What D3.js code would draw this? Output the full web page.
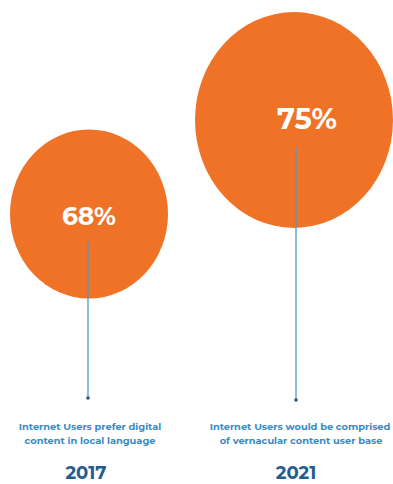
<!DOCTYPE html>
<html>
<head>
<meta charset="utf-8">
<script src="https://cdn.jsdelivr.net/npm/d3@7"></script>
<style>
  html, body { margin: 0; padding: 0; background: #ffffff; }
  svg { display: block; }
</style>
</head>
<body>
<svg id="chart" width="393" height="484"></svg>
<script>
// Share of internet users, by year
const years = ["2017", "2021"];
const shares = [68, 75];
const captionLine1 = ["Internet Users prefer digital", "Internet Users would be comprised"];
const captionLine2 = ["content in local language", "of vernacular content user base"];

const svg = d3.select("#chart");

const orange = "#f07227";
const stemBlue = "#4f98cc";
const captionBlue = "#3a8cc4";
const yearBlue = "#245d8c";
const font = "Montserrat, 'Open Sans', Lato, sans-serif";

const rows = years.map((y, i) => ({ year: y, value: shares[i], l1: captionLine1[i], l2: captionLine2[i] }));

// Column positions for each year
const x = d3.scalePoint().domain(years).range([89, 294]);
// Bubble size and height grow with the share
const r = d3.scaleLinear().domain([68, 75]).range([79, 99]);
const cy = d3.scaleLinear().domain([68, 75]).range([214, 120]);
const squash = d3.scaleLinear().domain([68, 75]).range([1.07, 1.09]); // bubbles are slightly taller than wide
const stemShift = d3.scaleLinear().domain([68, 75]).range([-1, 2]);
const labelShift = d3.scaleLinear().domain([68, 75]).range([0, 13]);
const stemEndY = d3.scaleLinear().domain([68, 75]).range([398, 400]);

const g = svg.selectAll("g.item").data(rows).join("g").attr("class", "item");

g.append("ellipse")
  .attr("cx", d => x(d.year))
  .attr("cy", d => cy(d.value))
  .attr("rx", d => r(d.value))
  .attr("ry", d => r(d.value) * squash(d.value))
  .attr("fill", orange);

// Stem from the bubble label down to the caption
g.append("line")
  .attr("x1", d => x(d.year) + stemShift(d.value))
  .attr("x2", d => x(d.year) + stemShift(d.value))
  .attr("y1", d => cy(d.value) + 27)
  .attr("y2", d => stemEndY(d.value))
  .attr("stroke", stemBlue)
  .attr("stroke-width", 1.3);

g.append("circle")
  .attr("cx", d => x(d.year) + stemShift(d.value))
  .attr("cy", d => stemEndY(d.value))
  .attr("r", 1.8)
  .attr("fill", "#2d5878");

// Value label inside the bubble
g.append("text")
  .attr("x", d => x(d.year) + labelShift(d.value))
  .attr("y", d => cy(d.value) + (d.value === 75 ? 9 : 11))
  .attr("text-anchor", "middle")
  .attr("fill", "#ffffff")
  .attr("font-family", font)
  .attr("font-weight", 700)
  .attr("font-size", d => d.value === 75 ? 29 : 25)
  .text(d => d.value + "%");

// Caption lines
g.append("text")
  .attr("x", d => x(d.year) + (d.value === 75 ? 6 : 1))
  .attr("y", 430)
  .attr("text-anchor", "middle")
  .attr("fill", captionBlue)
  .attr("font-family", font)
  .attr("font-weight", 700)
  .attr("font-size", 9.8)
  .text(d => d.l1);

g.append("text")
  .attr("x", d => x(d.year) + (d.value === 75 ? 7 : 1))
  .attr("y", 444)
  .attr("text-anchor", "middle")
  .attr("fill", captionBlue)
  .attr("font-family", font)
  .attr("font-weight", 700)
  .attr("font-size", 9.8)
  .text(d => d.l2);

// Year
g.append("text")
  .attr("x", d => x(d.year) + (d.value === 75 ? 2 : -3))
  .attr("y", 479)
  .attr("text-anchor", "middle")
  .attr("fill", yearBlue)
  .attr("font-family", font)
  .attr("font-weight", 700)
  .attr("font-size", 18)
  .text(d => d.year);
</script>
</body>
</html>
